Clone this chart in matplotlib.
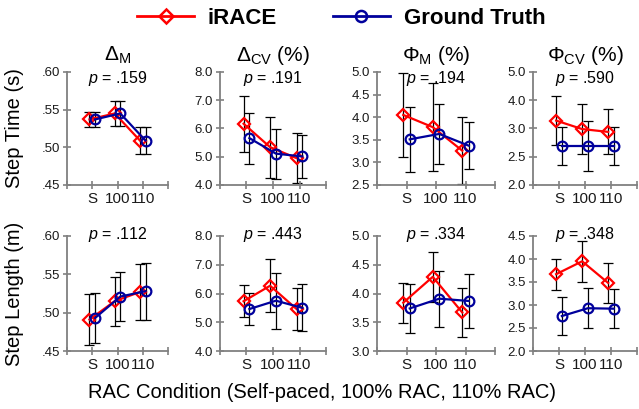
import matplotlib
matplotlib.use("Agg")
import matplotlib.pyplot as plt
from matplotlib.lines import Line2D
from matplotlib.ticker import FuncFormatter

plt.rcParams['font.family'] = ['Liberation Sans', 'DejaVu Sans']
plt.rcParams['mathtext.fontset'] = 'custom'
plt.rcParams['mathtext.rm'] = 'Liberation Sans'
plt.rcParams['mathtext.it'] = 'Liberation Sans:italic'
plt.rcParams['mathtext.bf'] = 'Liberation Sans:bold'

conditions = ["S", "100", "110"]
titles = ["Δ$_\\mathrm{M}$", "Δ$_\\mathrm{CV}$ (%)", "Φ$_\\mathrm{M}$ (%)", "Φ$_\\mathrm{CV}$ (%)"]
row_labels = ["Step Time (s)", "Step Length (m)"]
p_values = [[".159", ".191", ".194", ".590"],
            [".112", ".443", ".334", ".348"]]

# step time (top row), one list per panel
st_irace = [[.537, .545, .509], [6.17, 5.34, 4.95], [4.05, 3.78, 3.26], [3.14, 2.99, 2.94]]
st_irace_err = [[.010, .017, .018], [0.99, 1.08, 0.88], [0.92, 0.97, 0.74], [0.43, 0.45, 0.40]]
st_truth = [[.537, .545, .509], [5.66, 5.11, 5.01], [3.51, 3.63, 3.37], [2.69, 2.69, 2.69]]
st_truth_err = [[.010, .017, .018], [0.90, 0.88, 0.76], [0.72, 0.66, 0.52], [0.34, 0.44, 0.33]]

# step length (bottom row)
sl_irace = [[.491, .515, .527], [5.73, 6.27, 5.46], [3.84, 4.29, 3.67], [3.67, 3.95, 3.48]]
sl_irace_err = [[.033, .032, .037], [0.55, 0.92, 0.72], [0.35, 0.44, 0.43], [0.34, 0.44, 0.43]]
sl_truth = [[.493, .521, .528], [5.46, 5.75, 5.50], [3.74, 3.91, 3.87], [2.76, 2.93, 2.92]]
sl_truth_err = [[.033, .032, .037], [0.55, 0.97, 0.82], [0.42, 0.49, 0.47], [0.42, 0.44, 0.42]]

# y axes: (min, max, step) and tick labels
ylims = [[(.45, .60, .05), (4, 8, 1), (2.5, 5.0, .5), (2.0, 4.0, .5)],
         [(.45, .60, .05), (4, 8, 1), (3.0, 5.0, .5), (2.0, 4.5, .5)]]
odd_labels = ["2.0", "2.5", "3.0", "4.0", "5.0"]  # as printed on top-right panel

W, H = 639, 409
fig = plt.figure(figsize=(W / 100, H / 100), dpi=100)

cols = [(67, 168), (220, 326), (377, 495), (533, 637)]
rows = [(72, 185), (236, 351)]
red = "#FF0000"
blue = "#00009C"
grey = "#808080"

data = [(st_irace, st_irace_err, st_truth, st_truth_err),
        (sl_irace, sl_irace_err, sl_truth, sl_truth_err)]

x = [1, 2, 3]
for r, (ytop, ybot) in enumerate(rows):
    ir, ire, gt, gte = data[r]
    for c, (x0, x1) in enumerate(cols):
        ax = fig.add_axes([x0 / W, 1 - ybot / H, (x1 - x0) / W, (ybot - ytop) / H])
        xr = [v - 0.11 for v in x]
        xb = [v + 0.11 for v in x]
        ax.errorbar(xr, ir[c], yerr=ire[c], fmt='none', ecolor='black', elinewidth=0.9,
                    capsize=3.5, capthick=0.9, zorder=1)
        ax.errorbar(xb, gt[c], yerr=gte[c], fmt='none', ecolor='black', elinewidth=0.9,
                    capsize=3.5, capthick=0.9, zorder=1)
        ax.plot(xr, ir[c], color=red, lw=1.6, marker='D', ms=6.5, mfc='none', mew=1.6, zorder=2)
        ax.plot(xb, gt[c], color=blue, lw=1.6, marker='o', ms=7, mfc='none', mew=1.6, zorder=3)

        lo, hi, step = ylims[r][c]
        n = int(round((hi - lo) / step))
        ticks = [lo + i * step for i in range(n + 1)]
        ax.set_ylim(lo, hi)
        ax.set_yticks(ticks)
        if c == 0:
            ax.yaxis.set_major_formatter(FuncFormatter(lambda v, p: f"{v:.2f}".lstrip("0")))
        elif r == 0 and c == 3:
            ax.set_yticklabels(odd_labels)
        else:
            ax.yaxis.set_major_formatter(FuncFormatter(lambda v, p: f"{v:.1f}"))
        ax.set_xlim(0, 4)
        ax.set_xticks([0, 1, 2, 3, 4])
        ax.set_xticklabels([""] + conditions + [""])

        for s in ["top", "right"]:
            ax.spines[s].set_visible(False)
        for s in ["left", "bottom"]:
            ax.spines[s].set_color(grey)
            ax.spines[s].set_linewidth(1.3)
        ax.tick_params(axis='y', direction='inout', length=6, width=1.2, color=grey,
                       labelsize=9.5, labelcolor='#1a1a1a', pad=2)
        ax.tick_params(axis='x', direction='inout', length=6, width=1.2, color=grey,
                       labelsize=11, labelcolor='#1a1a1a', pad=2)

        if r == 0:
            ax.set_title(titles[c], fontsize=15, pad=8)
            py = 79
        else:
            py = 234
        fig.text((x0 + x1) / 2 / W, 1 - py / H, "$p$ = " + p_values[r][c],
                 ha='center', va='center', fontsize=11.5)

for r, (ytop, ybot) in enumerate(rows):
    fig.text(15 / W, 1 - (ytop + ybot) / 2 / H, row_labels[r], rotation=90,
             ha='center', va='center', fontsize=14.5)

fig.text(322 / W, 1 - 392 / H, "RAC Condition (Self-paced, 100% RAC, 110% RAC)",
         ha='center', va='center', fontsize=14.5)

handles = [Line2D([], [], color=red, lw=2, marker='D', ms=7, mfc='none', mew=1.8),
           Line2D([], [], color=blue, lw=2, marker='o', ms=8, mfc='none', mew=1.8)]
fig.legend(handles, ["iRACE", "Ground Truth"], loc='center', bbox_to_anchor=(341 / W, 1 - 18 / H),
           ncol=2, frameon=False, prop=dict(weight='bold', size=16), handlelength=2.6,
           columnspacing=2.5, handletextpad=0.6)

fig.savefig("out.png", dpi=100)
